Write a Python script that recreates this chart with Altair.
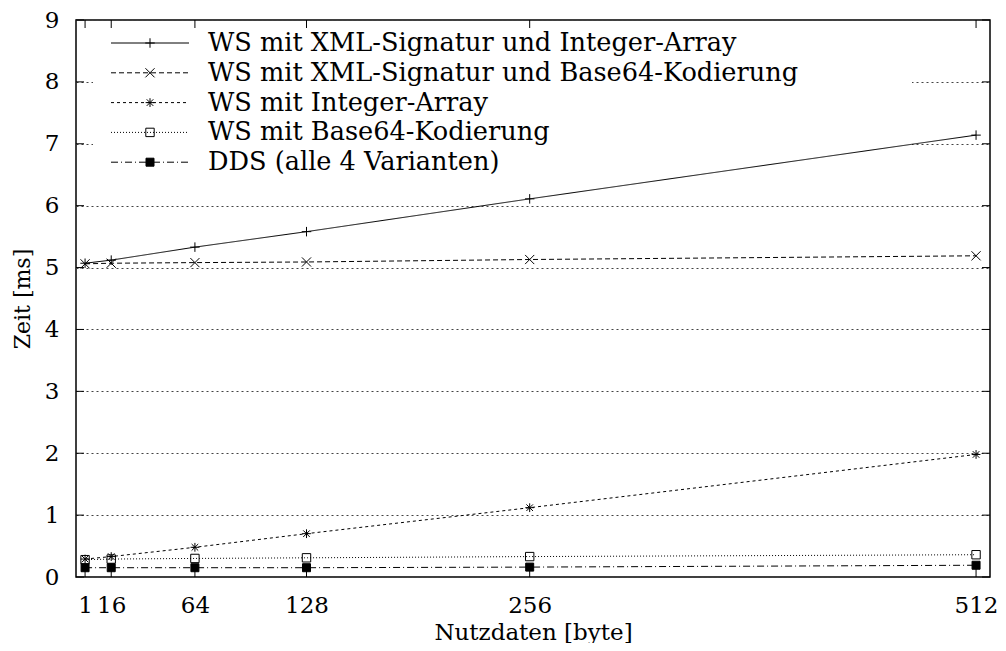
import altair as alt
import pandas as pd

# ---------------- data ----------------
sizes = [1, 16, 64, 128, 256, 512]
series_names = [
    "WS mit XML-Signatur und Integer-Array",
    "WS mit XML-Signatur und Base64-Kodierung",
    "WS mit Integer-Array",
    "WS mit Base64-Kodierung",
    "DDS (alle 4 Varianten)",
]
ws_xml_int = [5.07, 5.12, 5.33, 5.58, 6.11, 7.14]
ws_xml_b64 = [5.06, 5.07, 5.08, 5.09, 5.13, 5.19]
ws_int = [0.29, 0.33, 0.48, 0.70, 1.12, 1.98]
ws_b64 = [0.28, 0.29, 0.30, 0.31, 0.33, 0.36]
dds = [0.15, 0.15, 0.15, 0.15, 0.16, 0.19]
y_ticks = [0, 1, 2, 3, 4, 5, 6, 7, 8, 9]
x_ticks = sizes

rows = []
for name, vals in zip(series_names, [ws_xml_int, ws_xml_b64, ws_int, ws_b64, dds]):
    for b, v in zip(sizes, vals):
        rows.append({"series": name, "bytes": b, "ms": v})
df = pd.DataFrame(rows)

legend_df = pd.DataFrame({"series": series_names, "row": list(range(len(series_names)))})
ytick_df = pd.DataFrame({"v": y_ticks})
xtick_df = pd.DataFrame({"v": x_ticks})
box_df = pd.DataFrame({"k": [0]})

# ---------------- styles ----------------
FONT = "DejaVu Serif"
W, H = 914, 557

dash_scale = alt.Scale(domain=series_names,
                       range=[[1, 0], [5, 3], [3, 3], [1, 2], [7, 3, 1, 3]])
plus = "M-1,0L1,0M0,-1L0,1"
cross = "M-1,-1L1,1M-1,1L1,-1"
star = "M-1,0L1,0M0,-1L0,1M-0.75,-0.75L0.75,0.75M-0.75,0.75L0.75,-0.75"
shape_scale = alt.Scale(domain=series_names, range=[plus, cross, star, "square", "square"])
fill_scale = alt.Scale(domain=series_names,
                       range=["transparent", "transparent", "transparent", "transparent", "black"])
size_scale = alt.Scale(domain=series_names, range=[90, 64, 90, 80, 80])

x_scale = alt.Scale(domain=[-4.2, 520], nice=False, zero=False)
y_scale = alt.Scale(domain=[0, 9], nice=False, zero=True)

x_axis = alt.Axis(values=x_ticks, grid=False, ticks=False, domain=False,
                  labelFont=FONT, labelFontSize=23, labelColor="black",
                  labelPadding=28, labelBaseline="middle", labelOverlap=False,
                  labelFlush=False, format="d",
                  title="Nutzdaten [byte]", titleFont=FONT, titleFontSize=23,
                  titleFontWeight="normal", titleColor="black",
                  titleX=W / 2, titleY=55, titleBaseline="middle", titleAlign="center")
y_axis = alt.Axis(values=y_ticks, grid=True, gridDash=[2, 3], gridColor="#444",
                  gridWidth=1, ticks=False, domain=False, format="d",
                  labelFont=FONT, labelFontSize=23, labelColor="black",
                  labelPadding=17, labelBaseline="middle",
                  title="Zeit [ms]", titleFont=FONT, titleFontSize=22,
                  titleFontWeight="normal", titleColor="black",
                  titleAngle=270, titleX=-54, titleY=H / 2,
                  titleBaseline="middle", titleAlign="center")

lines = alt.Chart(df).mark_line(color="black", strokeWidth=1).encode(
    x=alt.X("bytes:Q", scale=x_scale, axis=x_axis),
    y=alt.Y("ms:Q", scale=y_scale, axis=y_axis),
    strokeDash=alt.StrokeDash("series:N", scale=dash_scale, legend=None),
    detail="series:N",
)

# white legend box (hides the grid, drawn below the data lines)
box = alt.Chart(box_df).mark_rect(fill="white").encode(
    x=alt.value(17), x2=alt.value(836), y=alt.value(1), y2=alt.value(157)
)

# inward ticks
tick_left = alt.Chart(ytick_df).mark_rule(color="black", strokeWidth=1).encode(
    y=alt.Y("v:Q", scale=y_scale), x=alt.value(0), x2=alt.value(8))
tick_right = alt.Chart(ytick_df).mark_rule(color="black", strokeWidth=1).encode(
    y=alt.Y("v:Q", scale=y_scale), x=alt.value(W - 8), x2=alt.value(W))
tick_bottom = alt.Chart(xtick_df).mark_rule(color="black", strokeWidth=1).encode(
    x=alt.X("v:Q", scale=x_scale), y=alt.value(H - 8), y2=alt.value(H))
tick_top = alt.Chart(xtick_df).mark_rule(color="black", strokeWidth=1).encode(
    x=alt.X("v:Q", scale=x_scale), y=alt.value(0), y2=alt.value(8))

points = alt.Chart(df).mark_point(filled=True, stroke="black", strokeWidth=1,
                                  opacity=1).encode(
    x=alt.X("bytes:Q", scale=x_scale),
    y=alt.Y("ms:Q", scale=y_scale),
    shape=alt.Shape("series:N", scale=shape_scale, legend=None),
    fill=alt.Fill("series:N", scale=fill_scale, legend=None),
    size=alt.Size("series:N", scale=size_scale, legend=None),
)

# manual legend (gnuplot key style)
leg_base = alt.Chart(legend_df).transform_calculate(ly="23 + 29.8 * datum.row")
leg_lines = leg_base.mark_rule(color="black", strokeWidth=1).encode(
    x=alt.value(35), x2=alt.value(113),
    y=alt.Y("ly:Q", scale=None),
    strokeDash=alt.StrokeDash("series:N", scale=dash_scale, legend=None),
)
leg_points = leg_base.mark_point(filled=True, stroke="black", strokeWidth=1,
                                 opacity=1).encode(
    x=alt.value(74),
    y=alt.Y("ly:Q", scale=None),
    shape=alt.Shape("series:N", scale=shape_scale, legend=None),
    fill=alt.Fill("series:N", scale=fill_scale, legend=None),
    size=alt.Size("series:N", scale=size_scale, legend=None),
)
leg_text = leg_base.mark_text(align="left", baseline="middle", font=FONT,
                              fontSize=25.6, color="black").encode(
    x=alt.value(132),
    y=alt.Y("ly:Q", scale=None),
    text="series:N",
)

chart = alt.layer(
    box, lines, tick_left, tick_right, tick_bottom, tick_top,
    points, leg_lines, leg_points, leg_text,
).properties(
    width=W, height=H,
    autosize=alt.AutoSizeParams(type="none"),
    padding={"left": 68, "top": 12, "right": 8, "bottom": 66},
    background="white",
).configure_view(
    stroke="black", strokeWidth=1.5
)

chart.save("out.html", embed_options={"renderer": "svg", "actions": False})
